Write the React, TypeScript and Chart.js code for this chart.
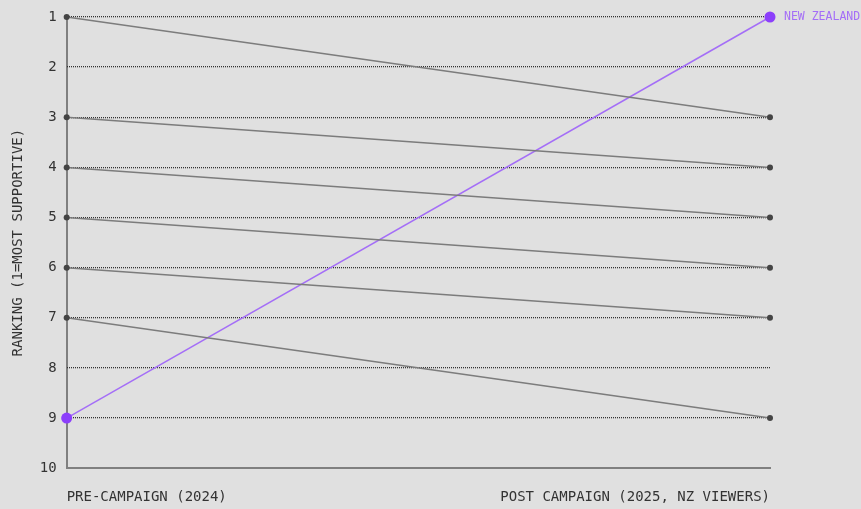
import React, { useEffect, useRef } from "react";
import { Chart, registerables } from "chart.js";

Chart.register(...registerables);

const stageLabels = ["PRE-CAMPAIGN (2024)", "POST CAMPAIGN (2025, NZ VIEWERS)"];
const otherPre = [1, 3, 4, 5, 6, 7];
const otherPost = [3, 4, 5, 6, 7, 9];
const nzLabel = "NEW ZEALAND";
const nzRanks = [9, 1];
const yTitle = "RANKING (1=MOST SUPPORTIVE)";

const FONT = "'DejaVu Sans Mono', 'Liberation Mono', monospace";

export default function App() {
  const ref = useRef<HTMLCanvasElement | null>(null);

  useEffect(() => {
    if (!ref.current) return;
    const grayDatasets = otherPre.map((pre, i) => ({
      label: `other-${i}`,
      data: [
        { x: 0, y: pre },
        { x: 1, y: otherPost[i] },
      ],
      borderColor: "#7c7c7c",
      borderWidth: 1.5,
      pointRadius: 3,
      pointBackgroundColor: "#444444",
      pointBorderColor: "#444444",
      pointBorderWidth: 0,
      clip: false as any,
    }));
    const nzDataset = {
      label: nzLabel,
      data: nzRanks.map((r, i) => ({ x: i, y: r })),
      borderColor: "#a46ef7",
      borderWidth: 1.5,
      pointRadius: 5.5,
      pointBackgroundColor: "#8c3ffb",
      pointBorderColor: "#8c3ffb",
      pointBorderWidth: 0,
      clip: false as any,
    };

    const labelPlugin = {
      id: "nzLabel",
      afterDatasetsDraw(chart: any) {
        const idx = chart.data.datasets.length - 1;
        const meta = chart.getDatasetMeta(idx);
        const pt = meta.data[meta.data.length - 1];
        const ctx = chart.ctx;
        ctx.save();
        ctx.font = `11.5px ${FONT}`;
        ctx.fillStyle = "#a46ef7";
        ctx.textBaseline = "middle";
        ctx.textAlign = "left";
        ctx.fillText(nzLabel, pt.x + 14, pt.y);
        ctx.restore();
      },
    };

    const chart = new Chart(ref.current, {
      type: "line",
      data: { datasets: [...grayDatasets, nzDataset] as any },
      options: {
        animation: false,
        responsive: false,
        maintainAspectRatio: false,
        layout: { padding: { left: 6, top: 16, right: 91, bottom: -18 } },
        plugins: { legend: { display: false }, tooltip: { enabled: false } },
        scales: {
          x: {
            type: "linear",
            min: 0,
            max: 1,
            offset: false,
            grid: {
              display: true,
              drawTicks: false,
              lineWidth: 2,
              color: (c: any) => (c.tick && c.tick.value === 0 ? "#808080" : "rgba(0,0,0,0)"),
            },
            border: { display: true, color: "#808080", width: 2 },
            ticks: {
              stepSize: 1,
              autoSkip: false,
              maxRotation: 0,
              align: "inner",
              padding: 21,
              color: "#333333",
              font: { family: FONT, size: 14 },
              callback: (v: any) => stageLabels[Number(v)] ?? "",
            },
          },
          y: {
            type: "linear",
            reverse: true,
            min: 1,
            max: 10,
            grid: {
              display: true,
              drawTicks: false,
              lineWidth: 1.3,
              color: (c: any) => (c.tick && c.tick.value === 10 ? "rgba(0,0,0,0)" : "#333333"),
            },
            border: { display: false, dash: [1, 1] },
            ticks: {
              stepSize: 1,
              autoSkip: false,
              padding: 10,
              color: "#333333",
              font: { family: FONT, size: 14, lineHeight: 1 },
            },
            title: {
              display: true,
              text: yTitle,
              color: "#333333",
              font: { family: FONT, size: 14 },
              padding: { top: 4, bottom: 3 },
            },
          },
        },
      } as any,
      plugins: [labelPlugin],
    });
    return () => chart.destroy();
  }, []);

  return (
    <div style={{ position: "fixed", left: 0, top: 0, width: 861, height: 509, background: "#e0e0e0" }}>
      <canvas ref={ref} width={861} height={509} style={{ display: "block", width: 861, height: 509 }} />
    </div>
  );
}
